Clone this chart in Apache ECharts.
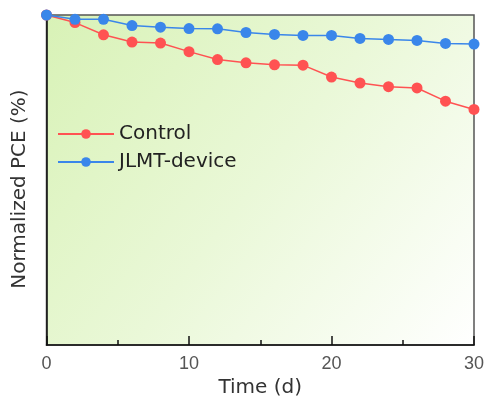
<!DOCTYPE html>
<html>
<head>
<meta charset="utf-8">
<script src="https://cdn.jsdelivr.net/npm/echarts@6/dist/echarts.min.js"></script>
<style>html,body{margin:0;padding:0;background:#fff;}#c{width:488px;height:403px;}</style>
</head>
<body>
<div id="c"></div>
<script>
const days = [0,2,4,6,8,10,12,14,16,18,20,22,24,26,28,30];
const controlPCE = [100,97.7,94.0,91.8,91.5,88.9,86.5,85.5,84.9,84.8,81.2,79.4,78.3,77.9,73.9,71.4];
const jlmtPCE = [100,98.7,98.7,96.8,96.3,95.9,95.8,94.7,94.1,93.8,93.8,92.9,92.6,92.3,91.4,91.2];
const xTicks = [0,10,20,30];
const seriesNames = ['Control','JLMT-device'];

const chart = echarts.init(document.getElementById('c'), null, {renderer:'canvas'});
const pair = arr => days.map((d,i)=>[d,arr[i]]);
chart.setOption({
  animation:false,
  backgroundColor:'#ffffff',
  grid:{left:46.5,right:14,top:15,bottom:52,show:true,borderColor:'#555',borderWidth:1.5,
    backgroundColor:{type:'linear',x:0,y:0,x2:1,y2:1,colorStops:[
      {offset:0,color:'#d8f2b6'},{offset:0.5,color:'#eaf8d8'},{offset:1,color:'#ffffff'}]}},
  legend:{orient:'vertical',left:52,top:119,itemWidth:56,itemHeight:12,itemGap:8,
    textStyle:{fontFamily:'DejaVu Sans',fontSize:20,color:'#222',lineHeight:20},
    data:seriesNames},
  xAxis:{type:'value',min:xTicks[0],max:xTicks[xTicks.length-1],interval:10,
    name:'Time (d)',nameLocation:'middle',nameGap:31,
    nameTextStyle:{fontFamily:'DejaVu Sans',fontSize:20,color:'#333'},
    axisLine:{lineStyle:{color:'#111',width:1.5}},
    axisTick:{inside:true,length:9,lineStyle:{color:'#111',width:1.5}},
    minorTick:{show:true,splitNumber:2,length:5,lineStyle:{color:'#111',width:1.5}},
    axisLabel:{fontFamily:'Liberation Sans',fontSize:18,color:'#555',margin:10},
    splitLine:{show:false}},
  yAxis:{type:'value',min:0,max:100,
    name:'Normalized PCE (%)',nameLocation:'middle',nameGap:17,
    nameTextStyle:{fontFamily:'DejaVu Sans',fontSize:20,color:'#333',padding:[0,18,0,0]},
    axisLine:{show:true,lineStyle:{color:'#111',width:1.5}},
    axisTick:{show:false},axisLabel:{show:false},splitLine:{show:false}},
  series:[
    {name:seriesNames[0],type:'line',data:pair(controlPCE),symbol:'circle',symbolSize:11,
      clip:false,z:3,
      itemStyle:{color:'#ff5252'},lineStyle:{color:'#ff5252',width:1.5}},
    {name:seriesNames[1],type:'line',data:pair(jlmtPCE),symbol:'circle',symbolSize:11,
      clip:false,z:3,
      itemStyle:{color:'#3a86ea'},lineStyle:{color:'#3a86ea',width:1.5}}
  ]
});
</script>
</body>
</html>
